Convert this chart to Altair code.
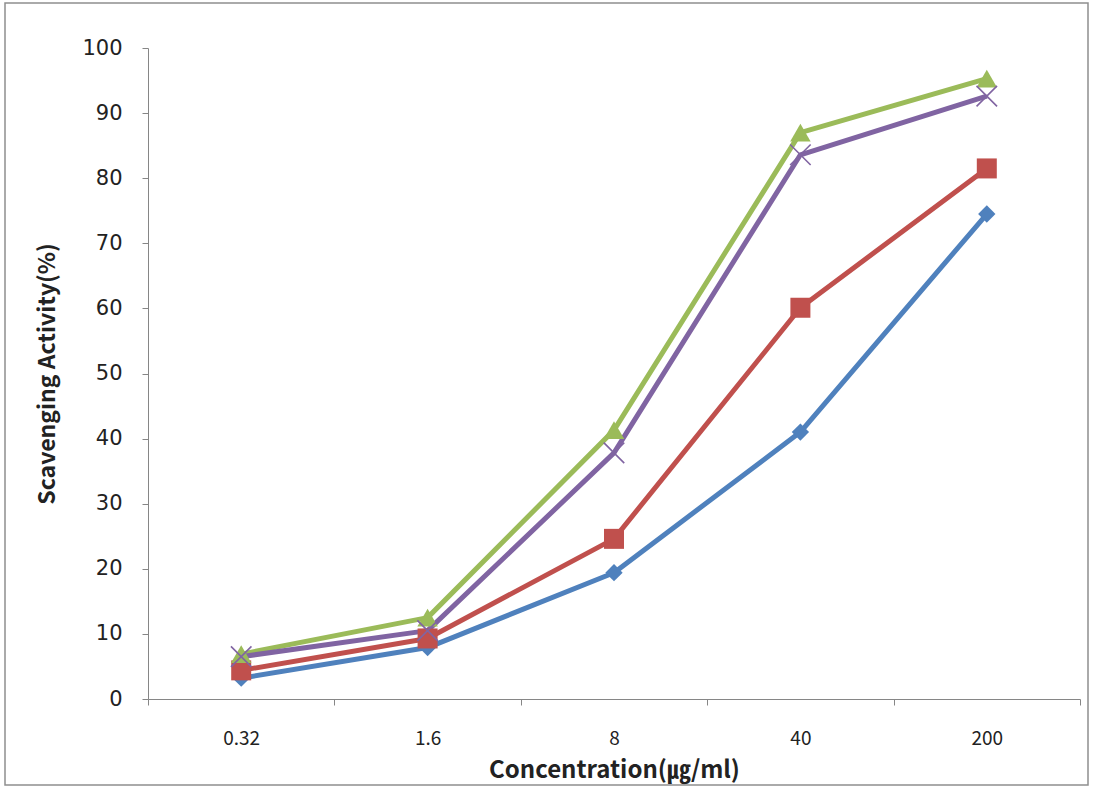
import altair as alt
import pandas as pd

# Concentrations (µg/ml) on the category axis
concentrations = ["0.32", "1.6", "8", "40", "200"]

# Extract series and their scavenging activity (%)
series_names = ["100%물", "50%EtOH", "80%EtOH", "100%EtOH"]
water_100 = [3.2, 7.9, 19.4, 41.0, 74.5]
etoh_50 = [4.4, 9.3, 24.6, 60.1, 81.5]
etoh_80 = [6.9, 12.5, 41.3, 87.0, 95.3]
etoh_100 = [6.5, 10.5, 37.8, 83.6, 92.6]

series_colors = ["#4F81BD", "#C0504D", "#9BBB59", "#8064A2"]
marker_shapes = ["diamond", "square", "triangle-up", "M-1,-1L1,1M-1,1L1,-1"]
marker_sizes = [300, 400, 420, 420]
y_ticks = list(range(0, 101, 10))

rows = []
for name, vals in zip(series_names, [water_100, etoh_50, etoh_80, etoh_100]):
    for c, v in zip(concentrations, vals):
        rows.append({"conc": c, "series": name, "value": v})
df = pd.DataFrame(rows)

AXIS_GREY = "#868686"
TEXT = "#222222"
CJK = "Noto Sans CJK KR"
LATIN = "'DejaVu Sans', 'Noto Sans CJK KR'"

# Legend symbols: a thick line segment with the series marker in the middle
bar = "M-1.17,-0.096H1.17V0.096H-1.17Z"
legend_paths = [
    bar + " M0,-0.29L0.27,0L0,0.29L-0.27,0Z",
    bar + " M-0.26,-0.26H0.26V0.26H-0.26Z",
    bar + " M0,-0.29L0.3,0.23H-0.3Z",
    bar + " M-0.21,-0.27L0.27,0.21L0.21,0.27L-0.27,-0.21Z"
          " M0.21,-0.27L0.27,-0.21L-0.21,0.27L-0.27,0.21Z",
]

x_enc = alt.X(
    "conc:N",
    sort=concentrations,
    scale=alt.Scale(paddingInner=0, paddingOuter=0),
    axis=alt.Axis(
        title="Concentration(㎍/ml)", labelAngle=0, tickBand="extent",
        labelFont=CJK, labelFontSize=19, labelColor=TEXT, labelPadding=24,
        tickSize=6, tickColor=AXIS_GREY, domainColor=AXIS_GREY,
        titleFont=CJK, titleFontSize=24, titleFontWeight="bold", titleColor=TEXT,
        titleX=466, titleY=71, titleAlign="center", titleBaseline="middle",
    ),
)

y_enc = alt.Y(
    "value:Q",
    scale=alt.Scale(domain=[0, 100], nice=False),
    axis=alt.Axis(
        title="Scavenging Activity(%)", values=y_ticks, grid=False,
        labelFont=LATIN, labelFontSize=21, labelColor=TEXT, labelPadding=20,
        tickSize=6, tickColor=AXIS_GREY, domainColor=AXIS_GREY,
        titleFont=CJK, titleFontSize=23, titleFontWeight="bold", titleColor=TEXT,
        titleAngle=270, titleX=-101, titleY=325.5, titleAlign="center", titleBaseline="middle",
    ),
)

stroke_scale = alt.Scale(domain=series_names, range=series_colors)

base = alt.Chart(df)

# Series lines
lines = base.mark_line(strokeWidth=5, strokeJoin="round").encode(
    x=x_enc,
    y=y_enc,
    stroke=alt.Stroke("series:N", scale=stroke_scale, legend=None),
    detail="series:N",
)

# Markers, one layer per series
marker_layers = []
for name, color, shape, size in zip(series_names, series_colors, marker_shapes, marker_sizes):
    if shape.startswith("M"):
        props = dict(shape=shape, filled=False, size=size, strokeWidth=1.6, color=color, opacity=1)
    else:
        props = dict(shape=shape, filled=True, size=size, color=color, opacity=1)
    marker_layers.append(
        base.mark_point(**props).encode(x=x_enc, y=y_enc).transform_filter(alt.datum.series == name)
    )

# Legend-only layer: no rows survive the filter, the scales carry the entries
series_legend = alt.Legend(
    title=" ",
    titleFontSize=1,
    titlePadding=0,
    orient="top-left",
    offset=92,
    symbolSize=2704,
    labelOffset=13,
    labelFont="DejaVu Sans",
    labelFontSize=19,
    labelColor=TEXT,
)
legend_layer = base.mark_point(filled=True, opacity=1).encode(
    x=x_enc,
    y=y_enc,
    color=alt.Color("series:N", scale=alt.Scale(domain=series_names, range=series_colors),
                    legend=series_legend),
    shape=alt.Shape("series:N", scale=alt.Scale(domain=series_names, range=legend_paths),
                    legend=series_legend),
).transform_filter("false")

# Outer chart frame
frame = alt.Chart(pd.DataFrame({"k": [0]})).mark_rect(
    fillOpacity=0, stroke="#8f8f8f", strokeWidth=1.5
).encode(x=alt.value(-143), x2=alt.value(940), y=alt.value(-45), y2=alt.value(737))

chart = (
    alt.layer(lines, *marker_layers, legend_layer, frame)
    .properties(
        width=932, height=651,
        padding={"left": 148, "top": 48, "right": 13, "bottom": 89},
        autosize=alt.AutoSizeParams(type="none"),
        background="white",
    )
    .configure_view(stroke=None)
)

chart.save("out.html", embed_options={"renderer": "svg", "actions": False})
